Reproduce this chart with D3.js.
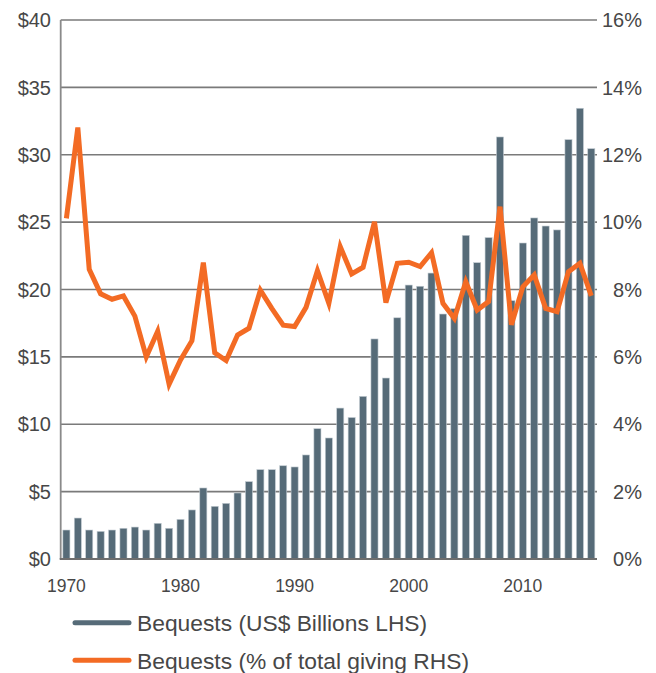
<!DOCTYPE html>
<html>
<head>
<meta charset="utf-8">
<script src="https://cdn.jsdelivr.net/npm/d3@7"></script>
<style>
  body { margin: 0; background: #fff; }
  text { font-family: "Liberation Sans", Arial, sans-serif; fill: #474747; }
</style>
</head>
<body>
<svg id="chart" width="656" height="673"></svg>
<script>
var years = [1970, 1971, 1972, 1973, 1974, 1975, 1976, 1977, 1978, 1979,
    1980, 1981, 1982, 1983, 1984, 1985, 1986, 1987, 1988, 1989,
    1990, 1991, 1992, 1993, 1994, 1995, 1996, 1997, 1998, 1999,
    2000, 2001, 2002, 2003, 2004, 2005, 2006, 2007, 2008, 2009,
    2010, 2011, 2012, 2013, 2014, 2015, 2016];

// US$ billions (left axis)
var bequests = [2.15, 3.04, 2.15, 2.05, 2.15, 2.28, 2.37, 2.15, 2.65, 2.28,
    2.94, 3.64, 5.27, 3.91, 4.13, 4.9, 5.74, 6.63, 6.63, 6.92,
    6.83, 7.72, 9.67, 8.98, 11.2, 10.5, 12.07, 16.33, 13.43, 17.9,
    20.33, 20.24, 21.22, 18.18, 18.58, 24.02, 21.99, 23.85, 31.32, 19.17,
    23.45, 25.31, 24.71, 24.42, 31.12, 33.45, 30.45];

// % of total giving (right axis)
var shares = [10.11, 12.81, 8.6, 7.87, 7.71, 7.81, 7.21, 6.0, 6.76, 5.19,
    5.91, 6.48, 8.8, 6.12, 5.89, 6.65, 6.85, 7.98, 7.44, 6.94,
    6.9, 7.47, 8.56, 7.59, 9.27, 8.46, 8.66, 10.01, 7.61, 8.78,
    8.81, 8.68, 9.09, 7.59, 7.14, 8.23, 7.39, 7.64, 10.46, 6.95,
    8.08, 8.43, 7.44, 7.34, 8.53, 8.78, 7.81];

var leftTicks = [0, 5, 10, 15, 20, 25, 30, 35, 40];
var rightTicks = [0, 2, 4, 6, 8, 10, 12, 14, 16];
var yearTicks = [1970, 1980, 1990, 2000, 2010];

var legendLabels = ["Bequests (US$ Billions LHS)", "Bequests (% of total giving RHS)"];

var barColor = "#566b78";
var lineColor = "#f36b24";
var gridColor = "#7a7a7a";

// plot box
var plotLeft = 60.7, plotRight = 597, plotTop = 20, plotBottom = 559;

var svg = d3.select("#chart");

var x = d3.scaleBand()
    .domain(years)
    .range([plotLeft, plotRight])
    .paddingInner(0.38)
    .paddingOuter(0.19);

var yLeft = d3.scaleLinear().domain([0, 40]).range([plotBottom, plotTop]);
var yRight = d3.scaleLinear().domain([0, 16]).range([plotBottom, plotTop]);

// gridlines
svg.append("g")
    .selectAll("line")
    .data(leftTicks.slice(1))
    .enter()
    .append("line")
    .attr("x1", plotLeft)
    .attr("x2", plotRight)
    .attr("y1", function(d){ return yLeft(d); })
    .attr("y2", function(d){ return yLeft(d); })
    .attr("stroke", gridColor)
    .attr("stroke-width", 1.6);

// bars
svg.append("g")
    .selectAll("rect")
    .data(years)
    .enter()
    .append("rect")
    .attr("x", function(d){ return x(d); })
    .attr("width", x.bandwidth())
    .attr("y", function(d, i){ return yLeft(bequests[i]); })
    .attr("height", function(d, i){ return plotBottom - yLeft(bequests[i]); })
    .attr("fill", barColor)
    .attr("stroke", "#c3ccd2")
    .attr("stroke-width", 0.6);

// axis lines
svg.append("line")
    .attr("x1", plotLeft).attr("x2", plotLeft)
    .attr("y1", plotTop).attr("y2", plotBottom)
    .attr("stroke", "#8a8a8a")
    .attr("stroke-width", 1.8);

svg.append("line")
    .attr("x1", plotLeft - 1).attr("x2", plotRight)
    .attr("y1", plotBottom).attr("y2", plotBottom)
    .attr("stroke", "#6e6e6e")
    .attr("stroke-width", 2);

// line series
var line = d3.line()
    .x(function(d, i){ return x(years[i]) + x.bandwidth() / 2; })
    .y(function(d){ return yRight(d); });

svg.append("path")
    .datum(shares)
    .attr("d", line)
    .attr("fill", "none")
    .attr("stroke", lineColor)
    .attr("stroke-width", 5)
    .attr("stroke-linejoin", "miter");

// left tick labels
svg.append("g")
    .selectAll("text")
    .data(leftTicks)
    .enter()
    .append("text")
    .attr("x", 51)
    .attr("y", function(d){ return yLeft(d); })
    .attr("dy", "0.36em")
    .attr("text-anchor", "end")
    .style("font-size", "20px")
    .text(function(d){ return "$" + d; });

// right tick labels
svg.append("g")
    .selectAll("text")
    .data(rightTicks)
    .enter()
    .append("text")
    .attr("x", 642)
    .attr("y", function(d){ return yRight(d); })
    .attr("dy", "0.36em")
    .attr("text-anchor", "end")
    .style("font-size", "20px")
    .text(function(d){ return d + "%"; });

// year labels
svg.append("g")
    .selectAll("text")
    .data(yearTicks)
    .enter()
    .append("text")
    .attr("x", function(d){ return x(d) + x.bandwidth() / 2; })
    .attr("y", 591.5)
    .attr("text-anchor", "middle")
    .style("font-size", "17.5px")
    .text(function(d){ return d; });

// legend
var legend = svg.append("g");
var legendColors = [barColor, lineColor];

legendLabels.forEach(function(label, i){
    var cy = 622.7 + i * 37.5;
    legend.append("line")
        .attr("x1", 75).attr("x2", 129)
        .attr("y1", cy).attr("y2", cy)
        .attr("stroke", legendColors[i])
        .attr("stroke-width", 5)
        .attr("stroke-linecap", "round");
    legend.append("text")
        .attr("x", 137)
        .attr("y", cy + 8.5)
        .style("font-size", "22.8px")
        .text(label);
});
</script>
</body>
</html>
